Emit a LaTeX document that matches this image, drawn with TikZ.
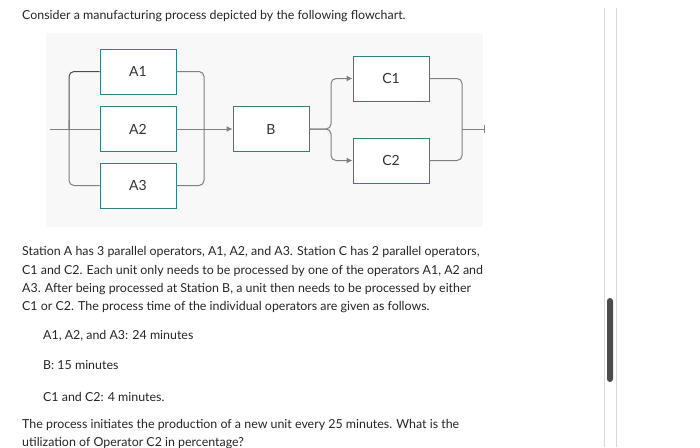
\documentclass[tikz,border=0pt]{standalone}
\usepackage{fontspec}
\setmainfont{Lato}
\begin{document}
\begin{tikzpicture}[x=1pt,y=-1pt,
  box/.style={draw=teal!60!gray,line width=0.9pt,fill=white,minimum width=76pt,minimum height=45pt,inner sep=0pt,font=\fontsize{14}{16}\selectfont,text=black!80},
  wire/.style={draw=black!50,line width=1pt,rounded corners=5pt},
  arr/.style={wire,-{Latex[length=6pt,width=6pt]}},
  txt/.style={anchor=base west,inner sep=0pt,font=\fontsize{12.4}{15}\selectfont,text=black!85}]
\usetikzlibrary{arrows.meta}
\useasboundingbox (0,0) rectangle (700,447);
\fill[white] (0,0) rectangle (700,447);
\fill[blue!3!gray!5] (46,33) rectangle (483,227);
% scrollbar
\draw[black!15] (604,8) -- (604,447);
\draw[black!15] (616,8) -- (616,447);
\fill[black!70,rounded corners=3pt] (607,298) rectangle (613,382);
\node[box] (A1) at (138,71.5) {A1};
\node[box] (A2) at (138,129) {A2};
\node[box] (A3) at (138,185.5) {A3};
\node[box] (B) at (271,129) {B};
\node[box] (C1) at (391,78.5) {C1};
\node[box] (C2) at (391,160.5) {C2};
\coordinate (in) at (50,129);
\coordinate (out) at (484,129);
\draw[wire] (in) -- (A2.west);
\draw[wire,black!70] (A1.west) -| (69,129);
\draw[wire] (69,120) |- (A3.west);
\draw[wire] (A1.east) -| (204,129);
\draw[wire] (A3.east) -| (204,129);
\draw[arr] (A2.east) -- (B.west);
\draw[arr] (B.east) -| (331,100) |- (C1.west);
\draw[arr] (B.east) -| (331,140) |- (C2.west);
\draw[wire] (C1.east) -| (462,129);
\draw[wire] (C2.east) -| (462,129);
\draw[wire] (462,129) -- (out);
\draw[black!50,line width=1pt] (out) ++(0,-4) -- ++(0,8);
\node[txt] (t0) at (22,19) {Consider a manufacturing process depicted by the following flowchart.};
\node[txt] (t1) at (22,255) {Station A has 3 parallel operators, A1, A2, and A3. Station C has 2 parallel operators,};
\node[txt] (t2) at (22,274) {C1 and C2. Each unit only needs to be processed by one of the operators A1, A2 and};
\node[txt] (t3) at (22,292) {A3. After being processed at Station B, a unit then needs to be processed by either};
\node[txt] (t4) at (22,310) {C1 or C2. The process time of the individual operators are given as follows.};
\node[txt] (t5) at (43,339) {A1, A2, and A3: 24 minutes};
\node[txt] (t6) at (43,369) {B: 15 minutes};
\node[txt] (t7) at (43,401) {C1 and C2: 4 minutes.};
\node[txt] (t8) at (22,428) {The process initiates the production of a new unit every 25 minutes. What is the};
\node[txt] (t9) at (22,446) {utilization of Operator C2 in percentage?};
\end{tikzpicture}
\end{document}
